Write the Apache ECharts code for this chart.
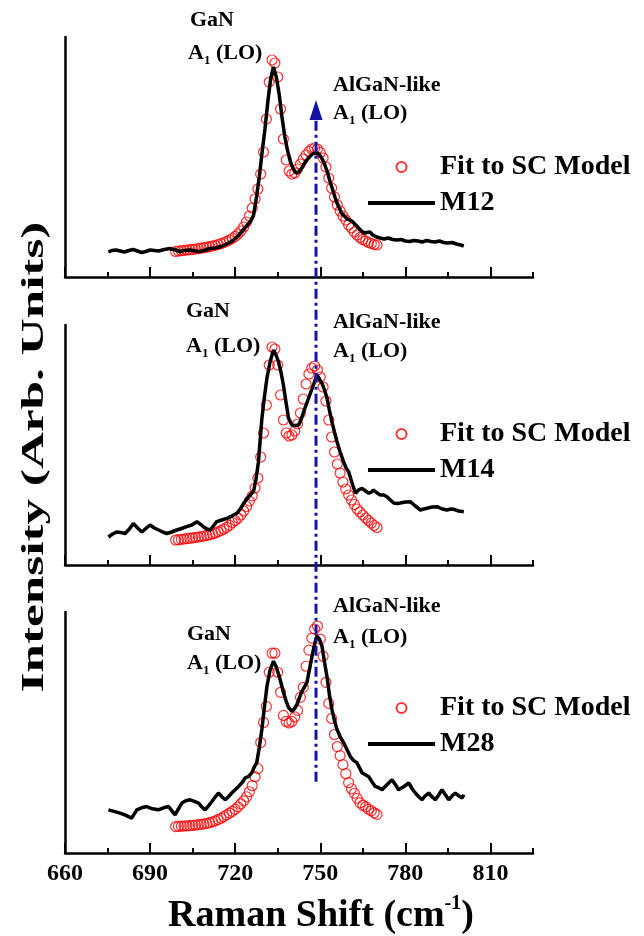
<!DOCTYPE html>
<html>
<head>
<meta charset="utf-8">
<script src="https://cdn.jsdelivr.net/npm/echarts/dist/echarts.min.js"></script>
<style>
html,body{margin:0;padding:0;background:#fff;}
#chart{width:644px;height:936px;}
</style>
</head>
<body>
<div id="chart"></div>
<script>
// ---- tick values ----
var majorTicks = [660, 690, 720, 750, 780, 810];
var minorTicks = [675, 705, 735, 765, 795, 825];

// ---- sample names ----
var sampleNames = ['M12', 'M14', 'M28'];
var fitName = 'Fit to SC Model';

// ---- measured spectra [Raman shift, intensity (arb.)] ----
var m12 = [[675.3,25],[676.5,26.5],[678,27],[679.5,26],[681,25],[682.5,26.5],[684,27.5],[685.5,26],[687,24.5],[688.5,25.5],[690,27],[691.5,26.5],[693,26],[695,27.5],[697,28.5],[699,27],[700.5,25.5],[702,26.5],[704,27],[706,26],[707.5,25.5],[709.5,27],[711,28.5],[713,29],[715,30.5],[717,33],[719,36],[721,41],[722.5,46],[724,51],[725.5,56],[726.5,62],[727.5,80],[728.5,100],[729.5,125],[730.5,148],[731.5,175],[732.5,198],[733.5,210],[734.5,200],[735.5,183],[736.5,160],[737.5,140],[738.5,126],[739.5,115],[740.5,108],[741.5,104],[742.5,105],[743.5,109],[744.5,114],[745.5,118],[746.5,121],[747.5,123.5],[748.5,124],[749.5,123],[750.5,119],[751.5,113],[752.5,105],[753.5,95],[754.5,86],[755.5,77],[756.5,70],[757.5,64],[758.5,61],[759.5,58],[760.5,57],[761.5,55],[762.5,52],[763.5,49],[764.5,46],[765.5,44],[766.5,44.5],[767.5,45],[768.5,42],[769.5,40.5],[771,39],[772.5,38],[774,39],[775.5,37.5],[777,37],[778.5,37.5],[780,36],[781.5,35.5],[783,36.5],[784.5,36],[786,35],[787.5,36.5],[789,35.5],[790.5,35],[792,36],[793.5,34.5],[795,34],[796.5,34.5],[798,33],[799.5,32],[800.6,31]];

var m14 = [[675.3,28],[676.8,31],[678.2,33],[679.7,32.5],[681.2,31.5],[682.7,36],[684.1,41.5],[685.6,37],[687.1,33],[688.5,36.5],[690,40],[691.5,37],[693,35],[694.5,33],[695.9,31.5],[697.6,33],[699.4,35],[701.1,36.5],[702.9,38.3],[704.7,40],[706.5,43.3],[707.6,41],[708.8,38.3],[710,36],[711.2,35],[712.3,39],[713.5,43.3],[715.3,45],[717.1,46.7],[718.8,49],[720.6,51.7],[721.8,56],[723,61.7],[724.1,66],[725.3,70],[726.5,74],[727.3,85],[728.2,103],[729.4,146],[730.3,168],[731.2,187],[732.3,203],[733.5,215],[734.4,210],[735.3,203],[736.2,192],[737,180],[737.9,163],[738.8,147],[740,140],[741.2,139.5],[742.4,140],[743.3,146],[744.1,153],[745,160],[745.9,167],[746.8,174],[747.6,180],[748.8,190],[749.7,186],[750.6,181.7],[751.5,175],[752.4,166.7],[753.2,155],[754.1,143.3],[755,133],[755.9,123.3],[757,113],[758.2,103.3],[759.1,97],[760,93.3],[761.2,82],[762.4,71.7],[763.5,75],[764.7,76.7],[766,74],[767.1,71.7],[768,73],[768.8,75],[770,72],[771.2,70],[772.4,70],[773.5,68.3],[774.7,65],[775.9,62],[777,61.5],[778.2,62],[780,63],[781.8,63.3],[783.5,59],[785.3,55],[786.5,56],[787.6,56.7],[789.4,58],[791.2,58.3],[793,56],[794.7,55],[796,56],[797.1,55.7],[798.8,54],[800.6,53.3]];

var m28 = [[675.3,43],[677.3,41.5],[679.4,39.7],[681.5,37.5],[683.5,34.7],[685.3,43],[687,45],[688.8,46.3],[690.8,44],[692.9,43],[694.7,45],[696.5,46.3],[697.7,42],[698.8,38],[700,44],[701.2,49.7],[702.6,52],[704.1,53],[705.6,51.5],[707.1,49.7],[708.2,46],[709.4,43],[710.6,47],[711.8,51.3],[713,56],[714.1,59.7],[715.3,56],[716.5,53],[717.6,56],[718.8,59.7],[720,63],[721.2,66.3],[722.4,70],[723.5,74.7],[724.7,76],[725.9,80],[726.8,86],[727.6,90],[728.5,105],[729.4,123],[730.3,145],[731.2,166],[732.3,182],[733.5,191],[734.4,186],[735.3,178],[736.2,169],[737,160],[738,151],[738.8,145],[740,141],[741,144],[741.8,148],[742.7,155],[743.5,161],[744.4,165],[745.3,170],[746.2,183],[747.1,196],[748,208],[748.8,216],[749.7,213],[750.6,206],[751.5,190],[752.4,175],[753.2,158],[754.1,143],[755,132],[755.9,123],[757,116],[758.2,110],[759.4,103],[760.6,96],[761.8,92],[762.9,90],[763.8,85],[764.7,80],[765.9,78],[767.1,76],[768.2,71],[769.4,66.3],[770.6,65],[771.8,63],[773.5,68],[775.3,73],[776.5,68],[777.6,63],[779.4,66],[781.2,69.7],[782.4,64],[783.5,59.7],[784.7,56],[785.9,53],[787,57],[788.2,59.7],[789.4,56],[790.6,53],[791.8,58],[792.9,63],[794.1,58],[795.3,53],[796.5,57],[797.6,59.7],[798.8,57],[800,54.7],[800.6,58]];

// ---- SC model fits: shift positions and intensities ----
var fitShift = [699,700,701,702,703,704,705,706,707,708,709,710,711,712,713,714,715,716,717,718,719,720,721,722,723,724,725,726,727,728,729,730,731,732,733,734,735,736,737,738,739,740,741,742,743,744,745,746,747,748,749,750,751,752,753,754,755,756,757,758,759,760,761,762,763,764,765,766,767,768,769,770];
var fitM12 = [25.5,26,26.3,26.6,27,27.3,27.7,28,28.4,28.8,29.3,29.8,30.4,31,31.7,32.5,33.4,34.4,35.6,37,38.6,40.6,43,46,50,55,61,69,78,88,103,125,158,195,217,214,200,168,138,117,106,103,104,108,113,118,122,125.5,128,129,128,124.5,119,110,99,89,80,72,66,61,57,52,49,45,42,39.5,37.5,36,34.5,33.5,32.5,32];
var fitM14 = [25,25.3,25.7,26,26.4,26.8,27.2,27.6,28,28.5,29,29.6,30.3,31,32,33.2,34.5,36,37.7,39.6,42.5,44.5,47,50,54,58.5,64,69,77,87,108,132,160,200,218,216,200,170,145,132,129,130,134,141,152,166,181,191,197,199,195,188,178,164,145,128,113,101,92,83,76,70,65,60.5,56,53,50,47,44.5,42,39.5,37.5];
var fitM28 = [26.3,26.5,26.7,26.9,27.1,27.3,27.6,27.9,28.2,28.6,29,29.5,30.2,31,32,33.2,34.6,36.2,38,39.8,41.5,43.5,46,49,52,56,61,67,76,84,110,130,146,180,199,199,180,160,137,131,129.5,131,135.5,142,155,165,186,202,214,223,226,213,196,170,149,134,118,106,97,88,79,70,64,59.5,54.5,50,47.5,46,43.5,42,40,38.5];

// ---- AlGaN-like A1(LO) guide line ----
var guideShift = 748.5;
var guideFrom = 71;   // bottom panel units
var guideTip = 177;   // top panel units

var FONT = '"Liberation Serif", "Times New Roman", serif';
var spectra = [m12, m14, m28];
var fits = [fitM12, fitM14, fitM28];

function pairs(xs, ys) {
  var out = [];
  for (var i = 0; i < xs.length; i++) out.push([xs[i], ys[i]]);
  return out;
}

var gridTops = [37, 325, 612];
var gridHeights = [240, 240, 241];
var legendTops = [153, 420, 694];

var grids = [], xAxes = [], yAxes = [], series = [], legends = [];
for (var p = 0; p < 3; p++) {
  grids.push({left: 65, top: gridTops[p], width: 468, height: gridHeights[p]});
  var last = (p === 2);
  xAxes.push({
    type: 'value', gridIndex: p, min: 660, max: 825,
    axisLine: {show: true, onZero: false, lineStyle: {color: '#000', width: 2.5}},
    axisTick: {show: true, inside: true, length: 10, customValues: majorTicks, lineStyle: {color: '#000', width: 2}},
    axisLabel: {show: last, customValues: majorTicks, color: '#000', fontFamily: FONT, fontWeight: 'bold', fontSize: 24, margin: 9},
    splitLine: {show: false}
  });
  xAxes.push({
    type: 'value', gridIndex: p, min: 660, max: 825, position: 'bottom',
    axisLine: {show: false, onZero: false},
    axisTick: {show: true, inside: true, length: 5, customValues: minorTicks, lineStyle: {color: '#000', width: 2}},
    axisLabel: {show: false},
    splitLine: {show: false}
  });
  yAxes.push({
    type: 'value', gridIndex: p, min: 0, max: 240,
    axisLine: {show: true, onZero: false, lineStyle: {color: '#000', width: 2.5}},
    axisTick: {show: false}, axisLabel: {show: false}, splitLine: {show: false}
  });
  series.push({
    type: 'scatter', name: fitName, xAxisIndex: 2 * p, yAxisIndex: p,
    data: pairs(fitShift, fits[p]),
    symbol: 'circle', symbolSize: 10,
    itemStyle: {color: 'rgba(255,255,255,0)', borderColor: '#ff0000', borderWidth: 1.2},
    z: 2, silent: true
  });
  series.push({
    type: 'line', name: sampleNames[p], xAxisIndex: 2 * p, yAxisIndex: p,
    data: spectra[p], showSymbol: false, symbol: 'none',
    lineStyle: {color: '#000', width: 3.5},
    itemStyle: {color: '#000'},
    z: 3, silent: true
  });
  legends.push({
    data: [fitName, {name: sampleNames[p], itemStyle: {color: 'rgba(0,0,0,0)', borderWidth: 0}, lineStyle: {color: '#000', width: 4}}],
    orient: 'vertical', left: 366, top: legendTops[p], padding: 0,
    itemWidth: 67, itemHeight: 10, itemGap: 8,
    selectedMode: false,
    textStyle: {color: '#000', fontFamily: FONT, fontWeight: 'bold', fontSize: 28}
  });
}

function ann(x, y, txt) {
  return {
    type: 'text', x: x, y: y, z: 10,
    style: {text: txt, fill: '#000', fontFamily: FONT, fontWeight: 'bold', fontSize: 22, verticalAlign: 'middle', align: 'left'}
  };
}
function annA(x, y) {
  return {
    type: 'text', x: x, y: y, z: 10,
    style: {
      text: '{a|A}{s|1}{a| (LO)}', verticalAlign: 'middle', align: 'left',
      rich: {
        a: {fill: '#000', fontFamily: FONT, fontWeight: 'bold', fontSize: 22, lineHeight: 28},
        s: {fill: '#000', fontFamily: FONT, fontWeight: 'bold', fontSize: 13, lineHeight: 13, verticalAlign: 'bottom'}
      }
    }
  };
}

var graphics = [
  ann(190, 20, 'GaN'), annA(188, 53),
  ann(333, 85, 'AlGaN-like'), annA(333, 113),
  ann(186, 311, 'GaN'), annA(186, 346),
  ann(333, 322, 'AlGaN-like'), annA(333, 351),
  ann(333, 606, 'AlGaN-like'), annA(333, 637),
  ann(187, 634, 'GaN'), annA(187, 663),
  {
    type: 'text', x: 321, y: 916, z: 10,
    style: {
      text: '{t|Raman Shift (cm}{u|-1}{t|)}', align: 'center', verticalAlign: 'middle',
      rich: {
        t: {fill: '#000', fontFamily: FONT, fontWeight: 'bold', fontSize: 38, lineHeight: 44},
        u: {fill: '#000', fontFamily: FONT, fontWeight: 'bold', fontSize: 20, lineHeight: 20, verticalAlign: 'top'}
      }
    }
  },
  {
    type: 'text', x: 35, y: 457, rotation: Math.PI / 2, scaleX: 1.6, z: 10,
    style: {text: 'Intensity (Arb. Units)', fill: '#000', fontFamily: FONT, fontWeight: 'bold', fontSize: 32, align: 'center', verticalAlign: 'middle'}
  }
];

var chart = echarts.init(document.getElementById('chart'), null, {renderer: 'canvas'});
chart.setOption({
  animation: false,
  backgroundColor: '#fff',
  grid: grids,
  xAxis: xAxes,
  yAxis: yAxes,
  legend: legends,
  series: series
});

// guide line through the AlGaN-like peak, positioned by the axes' own scales
var pBottom = chart.convertToPixel({xAxisIndex: 4, yAxisIndex: 2}, [guideShift, guideFrom]);
var pTip = chart.convertToPixel({xAxisIndex: 0, yAxisIndex: 0}, [guideShift, guideTip]);
var headH = 20, headW = 13;
graphics.push({
  type: 'line', z: 20, silent: true,
  shape: {x1: pBottom[0], y1: pBottom[1], x2: pTip[0], y2: pTip[1] + headH - 2},
  style: {stroke: '#1414a6', lineWidth: 3, lineDash: [10, 4, 3, 4]}
});
graphics.push({
  type: 'polygon', z: 21, silent: true,
  shape: {points: [[pTip[0], pTip[1]], [pTip[0] - headW / 2, pTip[1] + headH], [pTip[0] + headW / 2, pTip[1] + headH]]},
  style: {fill: '#1414a6'}
});
chart.setOption({graphic: graphics});
</script>
</body>
</html>
